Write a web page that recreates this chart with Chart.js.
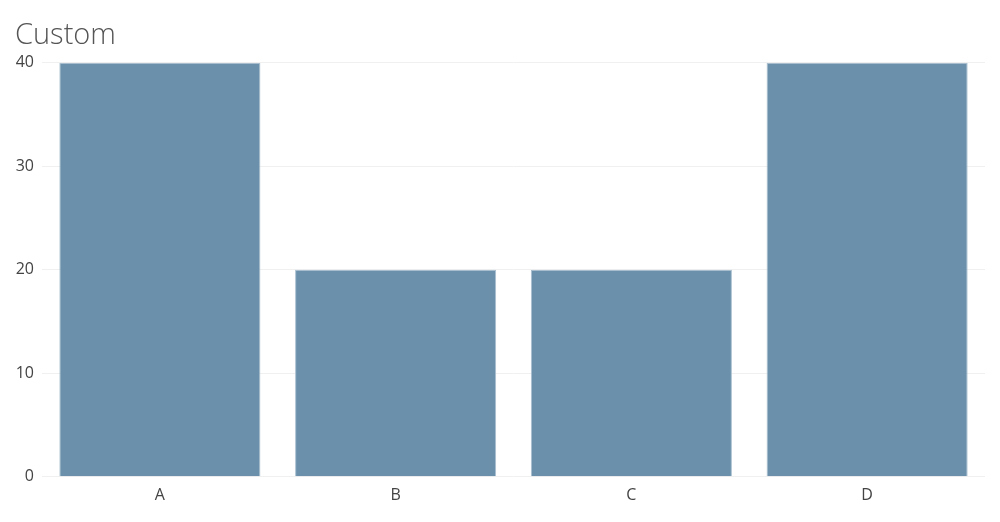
<!DOCTYPE html>
<html><head><meta charset="utf-8">
<script src="https://cdn.jsdelivr.net/npm/chart.js@4"></script>
<style>html,body{margin:0;padding:0;background:#fff}#wrap{width:1000px;height:522px}</style>
</head><body><div id="wrap"><canvas id="c" width="1000" height="522"></canvas></div>
<script>
const categories = ["A", "B", "C", "D"];
const values = [40, 20, 20, 40];
const yTicks = [0, 10, 20, 30, 40];
const titleText = "Custom";

new Chart(document.getElementById('c'), {
  type: 'bar',
  data: {
    labels: categories,
    datasets: [{
      data: values,
      backgroundColor: '#6a90ab',
      borderColor: '#a9bfcf',
      borderWidth: 1,
      categoryPercentage: 1,
      barPercentage: 0.853
    }]
  },
  options: {
    responsive: false,
    animation: false,
    layout: { padding: { left: 15, right: 15, top: 0, bottom: 16 } },
    plugins: {
      legend: { display: false },
      tooltip: { enabled: false },
      title: {
        display: true, text: titleText, align: 'start',
        color: '#555',
        font: { family: 'Open Sans', size: 29, weight: '300' },
        padding: { top: 18, bottom: 10 }
      }
    },
    scales: {
      x: {
        grid: { display: false },
        border: { display: false },
        ticks: { color: '#444', font: { family: 'Open Sans', size: 16 }, padding: 1 }
      },
      y: {
        min: 0, max: 40,
        afterBuildTicks: (s) => { s.ticks = yTicks.map(v => ({ value: v })); },
        afterFit: (s) => { s.width = 27; },
        grid: { color: '#f0f0f0', drawTicks: false },
        border: { display: false },
        ticks: { color: '#444', font: { family: 'Open Sans', size: 16 }, padding: 8 }
      }
    }
  }
});
</script></body></html>
